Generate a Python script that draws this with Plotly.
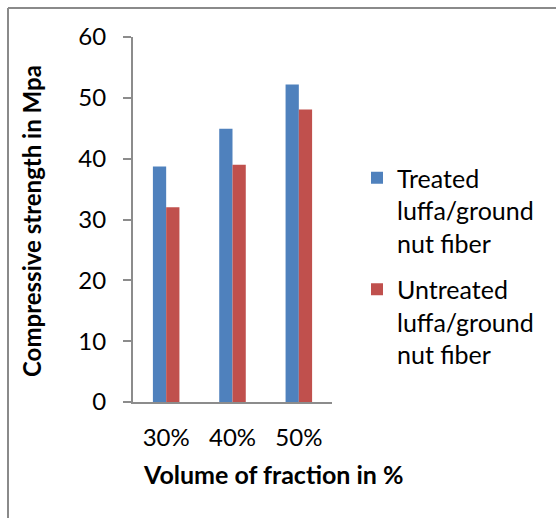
import plotly.graph_objects as go

# Data
categories = ["30%", "40%", "50%"]
treated = [38.7, 44.9, 52.2]
untreated = [32.0, 39.0, 48.1]
series_names = ["Treated<br>luffa/ground<br>nut fiber", "Untreated<br>luffa/ground<br>nut fiber"]
y_ticks = [0, 10, 20, 30, 40, 50, 60]

W, H = 556, 518
# plot area in pixels
PL, PR, PT, PB = 133, 332, 37, 402
FONT = "Lato, Calibri, Carlito, sans-serif"
AXIS_GRAY = "#8C8C8C"


def px_x(x):
    return (x - PL) / (PR - PL)


def px_y(y):
    return (PB - y) / (PB - PT)


fig = go.Figure()
fig.add_trace(go.Bar(x=categories, y=treated, name=series_names[0],
                     marker=dict(color="#4F81BD", line=dict(width=0)),
                     legendgroup="a"))
fig.add_trace(go.Bar(x=categories, y=untreated, name=series_names[1],
                     marker=dict(color="#C0504D", line=dict(width=0)),
                     legendgroup="b"))

fig.update_layout(
    width=W, height=H,
    margin=dict(l=PL, r=W - PR, t=PT, b=H - PB, pad=0),
    paper_bgcolor="white", plot_bgcolor="white",
    font=dict(family=FONT, size=24, color="black"),
    barmode="group", bargap=0.6, bargroupgap=0,
    showlegend=True,
    legend=dict(x=px_x(357), y=px_y(155), xanchor="left", yanchor="top",
                font=dict(family=FONT, size=25, color="black"),
                tracegroupgap=11, bgcolor="rgba(0,0,0,0)", valign="top"),
    xaxis=dict(showline=True, linecolor=AXIS_GRAY, linewidth=2,
               ticks="", showgrid=False, zeroline=False,
               ticklabelstandoff=13,
               tickfont=dict(family=FONT, size=24)),
    yaxis=dict(range=[0, 60], tickvals=y_ticks, showline=True,
               linecolor=AXIS_GRAY, linewidth=2, ticks="outside",
               ticklen=8, tickwidth=2, tickcolor=AXIS_GRAY,
               showgrid=False, zeroline=False, ticklabelstandoff=12,
               tickfont=dict(family=FONT, size=24)),
)

# axis titles
fig.add_annotation(text="<b>Compressive strength in Mpa</b>", textangle=-90,
                   xref="paper", yref="paper", x=px_x(32), y=px_y(221),
                   xanchor="center", yanchor="middle", showarrow=False,
                   font=dict(family=FONT, size=24, color="black"))
fig.add_annotation(text="<b>Volume of fraction in %</b>",
                   xref="paper", yref="paper", x=px_x(273), y=px_y(474),
                   xanchor="center", yanchor="middle", showarrow=False,
                   font=dict(family=FONT, size=25, color="black"))

# chart frame (top and left edges visible)
frame = dict(color="#8A8A8A", width=2)
fig.add_shape(type="line", xref="paper", yref="paper",
              x0=px_x(8), y0=px_y(8), x1=px_x(W + 5), y1=px_y(8), line=frame)
fig.add_shape(type="line", xref="paper", yref="paper",
              x0=px_x(8), y0=px_y(8), x1=px_x(8), y1=px_y(H + 5), line=frame)

fig.write_html("out.html")
